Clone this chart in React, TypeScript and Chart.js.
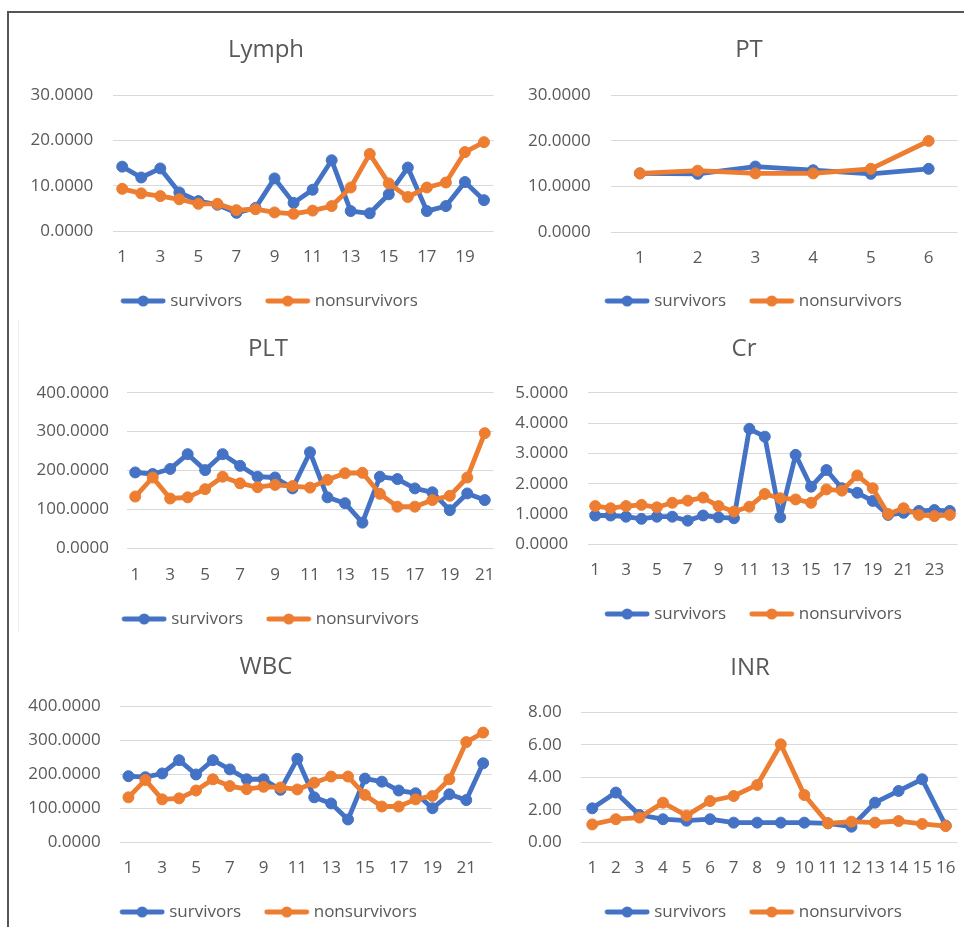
import React, { useEffect, useRef } from 'react';
import { Chart, registerables } from 'chart.js';

Chart.register(...registerables);

// ---------------- data ----------------
const lymphLabels = ['1','2','3','4','5','6','7','8','9','10','11','12','13','14','15','16','17','18','19','20'];
const lymphSurvivors = [14.2, 11.8, 13.8, 8.5, 6.6, 5.8, 4.0, 5.1, 11.6, 6.2, 9.1, 15.6, 4.4, 3.9, 8.1, 14.0, 4.4, 5.5, 10.8, 6.8];
const lymphNonsurvivors = [9.3, 8.3, 7.7, 7.0, 6.0, 6.0, 4.6, 4.8, 4.1, 3.8, 4.5, 5.5, 9.6, 17.0, 10.5, 7.5, 9.6, 10.7, 17.4, 19.6];

const ptLabels = ['1','2','3','4','5','6'];
const ptSurvivors = [12.9, 12.8, 14.4, 13.6, 12.8, 13.9];
const ptNonsurvivors = [12.9, 13.5, 12.9, 12.9, 13.9, 20.0];

const pltLabels = ['1','2','3','4','5','6','7','8','9','10','11','12','13','14','15','16','17','18','19','20','21'];
const pltSurvivors = [195, 191, 204, 242, 201, 242, 212, 184, 182, 154, 247, 131, 116, 66, 184, 178, 154, 144, 98, 141, 124];
const pltNonsurvivors = [133, 182, 128, 131, 152, 184, 167, 157, 163, 160, 156, 176, 193, 194, 140, 107, 107, 124, 135, 182, 296];

const crLabels = ['1','2','3','4','5','6','7','8','9','10','11','12','13','14','15','16','17','18','19','20','21','22','23','24'];
const crSurvivors = [0.95, 0.95, 0.91, 0.84, 0.91, 0.91, 0.78, 0.95, 0.89, 0.86, 3.81, 3.55, 0.89, 2.95, 1.90, 2.45, 1.85, 1.70, 1.43, 0.97, 1.04, 1.10, 1.13, 1.10];
const crNonsurvivors = [1.26, 1.19, 1.26, 1.30, 1.22, 1.37, 1.44, 1.54, 1.26, 1.08, 1.24, 1.66, 1.52, 1.48, 1.37, 1.81, 1.77, 2.27, 1.85, 1.00, 1.19, 0.97, 0.93, 0.97];

const wbcLabels = ['1','2','3','4','5','6','7','8','9','10','11','12','13','14','15','16','17','18','19','20','21','22'];
const wbcSurvivors = [194, 191, 202, 241, 199, 241, 214, 185, 185, 154, 245, 132, 114, 67, 187, 178, 152, 144, 100, 141, 124, 232];
const wbcNonsurvivors = [132, 183, 126, 129, 152, 185, 165, 156, 163, 161, 155, 175, 193, 193, 139, 105, 105, 126, 136, 185, 294, 322];

const inrLabels = ['1','2','3','4','5','6','7','8','9','10','11','12','13','14','15','16'];
const inrSurvivors = [2.09, 3.06, 1.68, 1.42, 1.33, 1.42, 1.21, 1.21, 1.21, 1.21, 1.17, 0.96, 2.44, 3.16, 3.88, 1.03];
const inrNonsurvivors = [1.10, 1.42, 1.52, 2.44, 1.64, 2.54, 2.85, 3.53, 6.03, 2.91, 1.17, 1.27, 1.21, 1.31, 1.13, 1.00];

const seriesNames = ['survivors', 'nonsurvivors'];

// ---------------- styles ----------------
const FONT = '"Open Sans", sans-serif';
const BLUE = '#4472C4';
const ORANGE = '#ED7D31';
const TEXT = '#595959';
const GRID = '#D9D9D9';
const TICK_SIZE = 17;
const TITLE_SIZE = 24;
const LEGEND_PAD = 27;
const LEGEND_BOX = 37;

const panels = [
  { title: 'Lymph', labels: lymphLabels, s: lymphSurvivors, n: lymphNonsurvivors, max: 30, step: 10, dec: 4, every: 2,
    L: 10, T: 14, W: 490, plotLeft: 112.7, plotRight: 494, plotTop: 95, plotBottom: 231,
    titleCX: 266, titleCY: 50, xLabelCY: 257, legendCY: 301, legendCX: 269, yLabelRight: 93.3 },
  { title: 'PT', labels: ptLabels, s: ptSurvivors, n: ptNonsurvivors, max: 30, step: 10, dec: 4, every: 1,
    L: 505, T: 14, W: 459, plotLeft: 611, plotRight: 962, plotTop: 95.3, plotBottom: 232.3,
    titleCX: 749, titleCY: 50, xLabelCY: 258, legendCY: 301, legendCX: 753, yLabelRight: 590.7 },
  { title: 'PLT', labels: pltLabels, s: pltSurvivors, n: pltNonsurvivors, max: 400, step: 100, dec: 4, every: 2,
    L: 10, T: 322, W: 490, plotLeft: 126.5, plotRight: 495, plotTop: 392.7, plotBottom: 548.3,
    titleCX: 268, titleCY: 349, xLabelCY: 575, legendCY: 619, legendCX: 270, yLabelRight: 109 },
  { title: 'Cr', labels: crLabels, s: crSurvivors, n: crNonsurvivors, max: 5, step: 1, dec: 4, every: 2,
    L: 505, T: 322, W: 459, plotLeft: 587.5, plotRight: 960, plotTop: 392.7, plotBottom: 544.3,
    titleCX: 744, titleCY: 349, xLabelCY: 570, legendCY: 614, legendCX: 753, yLabelRight: 568.3 },
  { title: 'WBC', labels: wbcLabels, s: wbcSurvivors, n: wbcNonsurvivors, max: 400, step: 100, dec: 4, every: 2,
    L: 10, T: 636, W: 490, plotLeft: 120, plotRight: 491.6, plotTop: 706, plotBottom: 842.3,
    titleCX: 266, titleCY: 667, xLabelCY: 868, legendCY: 912, legendCX: 268, yLabelRight: 100.7 },
  { title: 'INR', labels: inrLabels, s: inrSurvivors, n: inrNonsurvivors, max: 8, step: 2, dec: 2, every: 1,
    L: 505, T: 636, W: 459, plotLeft: 580.5, plotRight: 962.6, plotTop: 712.3, plotBottom: 842.3,
    titleCX: 750, titleCY: 668, xLabelCY: 868, legendCY: 912, legendCX: 753, yLabelRight: 561.7 },
];

function legendIcon(color: string) {
  const c = document.createElement('canvas');
  c.width = 46;
  c.height = 14;
  const ctx = c.getContext('2d')!;
  ctx.strokeStyle = color;
  ctx.lineWidth = 4.8;
  ctx.lineCap = 'round';
  ctx.beginPath();
  ctx.moveTo(3, 7);
  ctx.lineTo(43, 7);
  ctx.stroke();
  ctx.fillStyle = color;
  ctx.beginPath();
  ctx.arc(23, 7, 5.5, 0, Math.PI * 2);
  ctx.fill();
  return c;
}

// shifts the title and legend blocks horizontally after layout
const blockShift = {
  id: 'blockShift',
  afterLayout(chart: any, _args: any, opts: any) {
    const dl = (opts && opts.legendDx) || 0;
    const dt = (opts && opts.titleDx) || 0;
    if (chart.legend) {
      chart.legend.left += dl;
      chart.legend.right += dl;
    }
    if (chart.titleBlock) {
      chart.titleBlock.left += dt;
      chart.titleBlock.right += dt;
    }
  },
};

function Panel({ p }: { p: any }) {
  const ref = useRef<HTMLCanvasElement | null>(null);
  const H = Math.ceil(p.legendCY + 18.5 - p.T);

  useEffect(() => {
    if (!ref.current) return;
    const boxLeft = p.L;
    const boxCenter = (boxLeft + p.plotRight) / 2;
    const padRight = p.L + p.W - p.plotRight;
    const yW = p.plotLeft - boxLeft;
    const titlePadTop = p.titleCY - p.T - TITLE_SIZE * 0.6;
    const titlePadBottom = p.plotTop - p.T - titlePadTop - TITLE_SIZE * 1.2;
    const legendTop = p.legendCY - (LEGEND_PAD + TICK_SIZE / 2);
    const xH = legendTop - p.plotBottom;
    const tickLen = p.xLabelCY - p.plotBottom - TICK_SIZE * 0.6;
    const padBottom = p.T + H - (p.legendCY + 18.5);
    const yPad = p.plotLeft - p.yLabelRight;
    const titleDx = p.titleCX - boxCenter;
    const legendDx = p.legendCX - boxCenter + 2.25;
    const font = { family: FONT, size: TICK_SIZE };

    const icons = [legendIcon(BLUE), legendIcon(ORANGE)];
    const lineStyle = (color: string, order: number) => ({
      borderColor: color, backgroundColor: color, borderWidth: 4.8,
      borderJoinStyle: 'round', borderCapStyle: 'round',
      pointRadius: 5.5, pointBackgroundColor: color, pointBorderColor: color, pointBorderWidth: 1,
      tension: 0, order,
    });

    const chart = new Chart(ref.current, {
      type: 'line',
      data: {
        labels: p.labels,
        datasets: [
          { label: seriesNames[0], data: p.s, ...lineStyle(BLUE, 1) },
          { label: seriesNames[1], data: p.n, ...lineStyle(ORANGE, 0) },
        ],
      },
      options: {
        responsive: false,
        animation: false,
        layout: { padding: { left: 0, right: padRight, top: 0, bottom: padBottom } },
        plugins: {
          title: {
            display: true, text: p.title, color: TEXT,
            font: { family: FONT, size: TITLE_SIZE, weight: 'normal' },
            padding: { top: titlePadTop, bottom: titlePadBottom },
          },
          legend: {
            display: true, position: 'bottom',
            labels: {
              usePointStyle: true, pointStyleWidth: LEGEND_BOX, padding: LEGEND_PAD, color: TEXT, font,
              generateLabels: () => seriesNames.map((name, i) => ({
                text: name, fillStyle: i === 0 ? BLUE : ORANGE, strokeStyle: i === 0 ? BLUE : ORANGE,
                lineWidth: 0, hidden: false, pointStyle: icons[i], datasetIndex: i, fontColor: TEXT,
              })),
            },
          },
          tooltip: { enabled: false },
          blockShift: { titleDx, legendDx },
        } as any,
        scales: {
          x: {
            type: 'category', offset: true,
            grid: { display: false, drawTicks: true, tickLength: tickLen },
            border: { display: false },
            ticks: {
              padding: 0, autoSkip: false, maxRotation: 0, minRotation: 0, color: TEXT, font,
              callback: (_v: any, i: number) => (i % p.every === 0 ? p.labels[i] : ''),
            },
            afterFit: (s: any) => { s.height = xH; },
          },
          y: {
            min: 0, max: p.max,
            ticks: { stepSize: p.step, padding: yPad, color: TEXT, font, callback: (v: any) => Number(v).toFixed(p.dec) },
            grid: { color: GRID, lineWidth: 1, drawTicks: false },
            border: { display: false },
            afterFit: (s: any) => { s.width = yW; },
          },
        },
      } as any,
      plugins: [blockShift as any],
    });
    return () => chart.destroy();
  }, []);

  return (
    <canvas
      ref={ref}
      width={p.W}
      height={H}
      style={{ position: 'absolute', left: p.L, top: p.T, width: p.W, height: H }}
    />
  );
}

export default function App() {
  return (
    <div style={{ position: 'absolute', left: 0, top: 0, width: 964, height: 927, overflow: 'hidden', background: '#fff' }}>
      <div style={{ position: 'absolute', left: 7, top: 11, width: 957, height: 0, borderTop: '2px solid #555' }} />
      <div style={{ position: 'absolute', left: 7, top: 11, width: 0, height: 916, borderLeft: '2px solid #555' }} />
      <div style={{ position: 'absolute', left: 18, top: 320, width: 0, height: 312, borderLeft: '1px solid #eeeeee' }} />
      {panels.map((p) => (
        <Panel key={p.title} p={p} />
      ))}
    </div>
  );
}
